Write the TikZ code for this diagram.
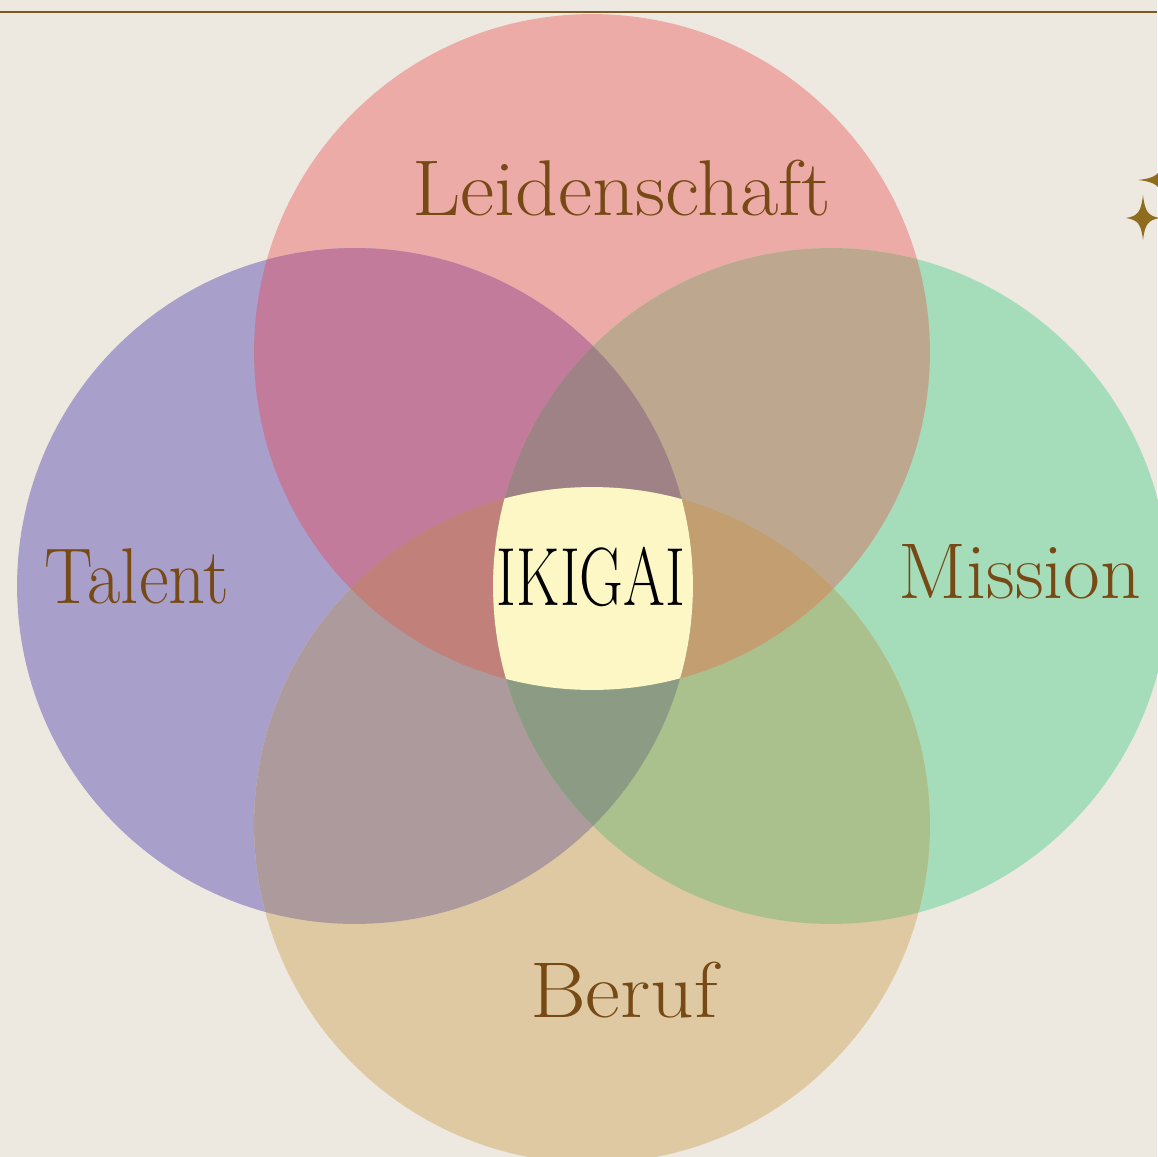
\documentclass[tikz,border=0pt]{standalone}
\usepackage{graphicx}
\usepackage{tikz}
\usetikzlibrary{positioning}

\definecolor{paper}{HTML}{EEE9E0}
\definecolor{ikibrown}{HTML}{774A15}
\definecolor{starbrown}{HTML}{8E6E1E}
\definecolor{rulebrown}{HTML}{7D5A22}
% single circles
\definecolor{leiC}{HTML}{EDABA7}
\definecolor{talC}{HTML}{A99FCB}
\definecolor{misC}{HTML}{A5DDBB}
\definecolor{berC}{HTML}{DEC9A3}
% overlaps
\definecolor{leitalC}{HTML}{C27B9B}
\definecolor{leimisC}{HTML}{BEA78F}
\definecolor{talberC}{HTML}{AD9A9C}
\definecolor{misberC}{HTML}{AAC08D}
\definecolor{topC}{HTML}{9E8286}
\definecolor{leftC}{HTML}{C2807A}
\definecolor{rightC}{HTML}{C29E70}
\definecolor{botC}{HTML}{8B9B84}
\definecolor{ikigaiC}{HTML}{FCF7C4}

\def\ikr{6.76cm}
\newcommand{\pairfill}[3]{%
  \begin{scope}\clip (#1) circle (\ikr); \fill[#3] (#2) circle (\ikr);\end{scope}}
\newcommand{\triplefill}[4]{%
  \begin{scope}\clip (#1) circle (\ikr); \clip (#2) circle (\ikr);
    \fill[#4] (#3) circle (\ikr);\end{scope}}

\begin{document}
\begin{tikzpicture}[x=0.02cm,y=-0.02cm,
  lbl/.style={text=ikibrown,font=\fontsize{45}{50}\selectfont,anchor=base,inner sep=0pt}]
  \fill[paper] (0,0) rectangle (1157,1157);
  \useasboundingbox (0,0) rectangle (1157,1157);
  \draw[rulebrown,line width=0.04cm] (0,12) -- (1157,12);

  \coordinate (cL) at (592,352);
  \coordinate (cT) at (355,586);
  \coordinate (cM) at (831,586);
  \coordinate (cB) at (592,825);

  % circles
  \fill[leiC] (cL) circle (\ikr);
  \fill[talC] (cT) circle (\ikr);
  \fill[misC] (cM) circle (\ikr);
  \fill[berC] (cB) circle (\ikr);
  \pairfill{cL}{cT}{leitalC}
  \pairfill{cL}{cM}{leimisC}
  \pairfill{cT}{cB}{talberC}
  \pairfill{cM}{cB}{misberC}
  \triplefill{cL}{cT}{cM}{topC}
  \triplefill{cL}{cT}{cB}{leftC}
  \triplefill{cL}{cM}{cB}{rightC}
  \triplefill{cT}{cM}{cB}{botC}
  \begin{scope}
    \clip (cL) circle (\ikr); \clip (cT) circle (\ikr); \clip (cM) circle (\ikr);
    \fill[ikigaiC] (cB) circle (\ikr);
  \end{scope}

  % labels
  \node[lbl] (lei) at (622,215) {\scalebox{1.06}[1]{Leidenschaft}};
  \node[lbl] (tal) at (137,603) {\scalebox{0.92}[1]{Talent}};
  \node[lbl] (mis) at (1020,598) {\scalebox{1.01}[1]{Mission}};
  \node[lbl] (ber) at (624,1017) {\scalebox{1.08}[1]{Beruf}};
  \node[lbl,text=black,font=\fontsize{47}{50}\selectfont] (iki) at (591,605) {\scalebox{0.73}[1]{IKIGAI}};

  % sparkles
  \fill[starbrown] (1143,195) .. controls (1145,212) and (1148,216) .. (1160,218)
    .. controls (1148,220) and (1145,224) .. (1143,240)
    .. controls (1141,224) and (1138,220) .. (1126,218)
    .. controls (1138,216) and (1141,212) .. (1143,195) -- cycle;
  \fill[starbrown] (1163,160) .. controls (1161,174) and (1156,178) .. (1138,180)
    .. controls (1156,182) and (1161,186) .. (1163,200) -- cycle;
\end{tikzpicture}
\end{document}
